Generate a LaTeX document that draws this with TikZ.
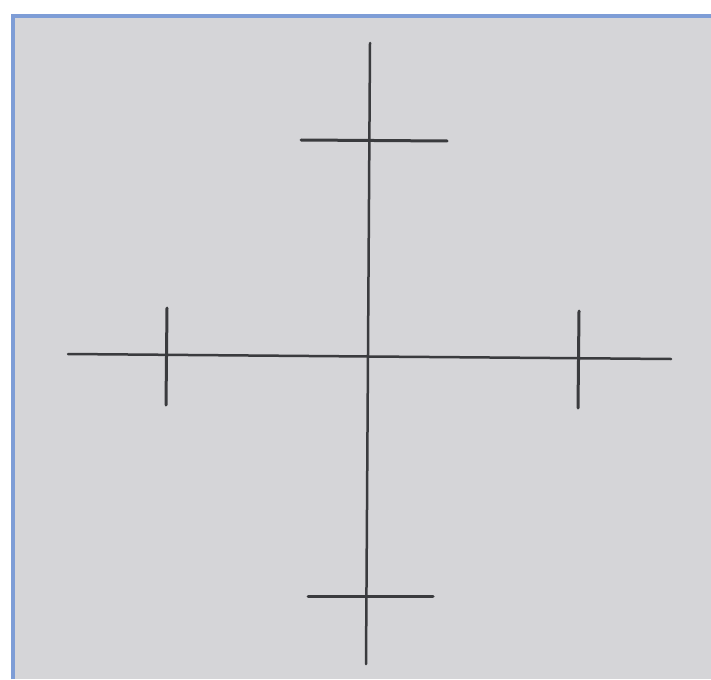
\documentclass[tikz,border=0pt]{standalone}
\usepackage{tikz}
\usetikzlibrary{calc}
\definecolor{paper}{HTML}{D5D5D8}
\definecolor{frame}{HTML}{7E9DD6}
\definecolor{pencil}{HTML}{3A3B3E}
\tikzset{
  sheet/.style = {fill=paper, draw=none},
  rim/.style   = {draw=frame, line width=4pt},
  axisline/.style = {draw=pencil, line width=2.5pt, line cap=round},
  tick/.style  = {draw=pencil, line width=3pt, line cap=round},
}
\begin{document}
\begin{tikzpicture}[x=1pt,y=-1pt]
  \useasboundingbox (0,0) rectangle (711,679);
  \fill[white] (0,0) rectangle (711,679);
  \path[sheet] (13,16) rectangle (711,679);
  \draw[rim] (13,679) -- (13,16) -- (711,16);
  % axes
  \coordinate (top) at (370,43);
  \coordinate (bottom) at (366,664);
  \coordinate (left) at (68,354);
  \coordinate (right) at (671,359);
  \draw[axisline] (top) -- (bottom);
  \draw[axisline] (left) -- (right);
  % ticks
  \draw[tick] (301,140) -- (447,141);
  \draw[tick] (308,596) -- (433,596);
  \draw[tick] (167,308) -- (166,405);
  \draw[tick] (579,311) -- (578,408);
\end{tikzpicture}
\end{document}
